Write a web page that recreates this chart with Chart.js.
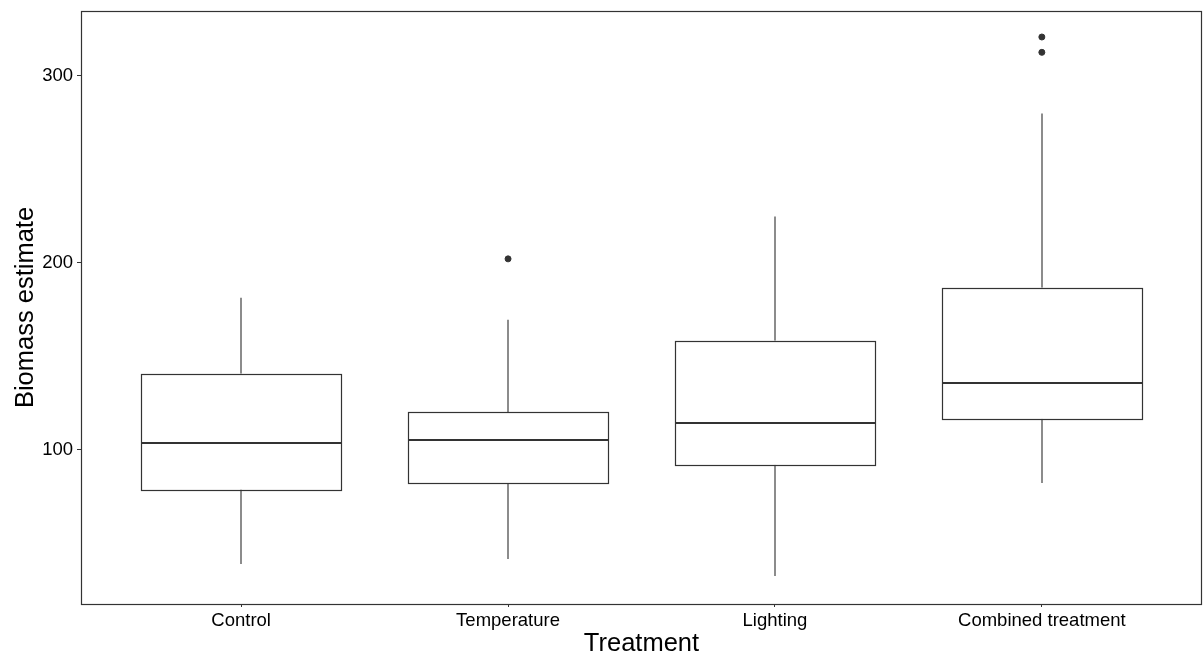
<!DOCTYPE html>
<html>
<head>
<meta charset="utf-8">
<script src="https://cdn.jsdelivr.net/npm/chart.js@4"></script>
<style>
  html, body { margin: 0; padding: 0; background: #fff; }
  #wrap { width: 1203px; height: 659px; }
</style>
</head>
<body>
<div id="wrap"><canvas id="chartBox"></canvas></div>
<script>
const categories = ["Control", "Temperature", "Lighting", "Combined treatment"];
const whiskerLow = [39.0, 41.7, 32.6, 82.3];
const q1 = [78.8, 82.3, 92.0, 116.6];
const median = [103.6, 105.4, 114.5, 135.9];
const q3 = [140.7, 120.3, 158.3, 186.7];
const whiskerHigh = [181.3, 169.6, 224.7, 279.8];
const outliers = [[], [202.1], [], [312.5, 320.7]];
const yTicks = [100, 200, 300];

const boxData = categories.map((c, i) => ({ x: i + 1, y: [q1[i], q3[i]] }));
const outlierData = [];
outliers.forEach((list, i) => list.forEach(v => outlierData.push({ x: i + 1, y: v })));

const boxPlugin = {
  id: "boxParts",
  beforeDatasetsDraw(chart) {
    const ctx = chart.ctx;
    const x = chart.scales.x, y = chart.scales.y;
    ctx.save();
    ctx.strokeStyle = "#8c8c8c";
    ctx.lineWidth = 2;
    categories.forEach((c, i) => {
      const px = Math.round(x.getPixelForValue(i + 1));
      ctx.beginPath();
      ctx.moveTo(px, y.getPixelForValue(q3[i]));
      ctx.lineTo(px, y.getPixelForValue(whiskerHigh[i]));
      ctx.moveTo(px, y.getPixelForValue(q1[i]));
      ctx.lineTo(px, y.getPixelForValue(whiskerLow[i]));
      ctx.stroke();
    });
    ctx.restore();
  },
  afterDatasetsDraw(chart) {
    const ctx = chart.ctx;
    const y = chart.scales.y;
    const meta = chart.getDatasetMeta(0);
    ctx.save();
    // boxes outline, crisp
    ctx.strokeStyle = "#333";
    ctx.lineWidth = 1.2;
    meta.data.forEach((bar) => {
      const l = Math.round(bar.x - bar.width / 2) + 0.5;
      const r = Math.round(bar.x + bar.width / 2) + 0.5;
      const t = Math.round(Math.min(bar.y, bar.base)) + 0.5;
      const b = Math.round(Math.max(bar.y, bar.base)) + 0.5;
      ctx.strokeRect(l, t, r - l, b - t);
    });
    ctx.lineWidth = 2;
    meta.data.forEach((bar, i) => {
      const py = Math.round(y.getPixelForValue(median[i]));
      ctx.beginPath();
      ctx.moveTo(Math.round(bar.x - bar.width / 2), py);
      ctx.lineTo(Math.round(bar.x + bar.width / 2) + 1, py);
      ctx.stroke();
    });
    const a = chart.chartArea;
    ctx.lineWidth = 1.2;
    ctx.strokeRect(Math.round(a.left) + 0.5, Math.round(a.top) + 0.5,
      Math.round(a.right - a.left) - 1, Math.round(a.bottom - a.top));
    ctx.restore();
  }
};

new Chart("chartBox", {
  type: "bar",
  data: {
    datasets: [
      {
        label: "box",
        data: boxData,
        backgroundColor: "#fff",
        borderWidth: 0,
        barPercentage: 0.75,
        categoryPercentage: 1,
        order: 2,
      },
      {
        type: "scatter",
        label: "outliers",
        data: outlierData,
        backgroundColor: "#333",
        borderColor: "#333",
        pointRadius: 3,
        order: 1,
      },
    ],
  },
  options: {
    responsive: true,
    maintainAspectRatio: false,
    animation: false,
    layout: { autoPadding: false, padding: { top: 11, right: 1, left: 0, bottom: 0 } },
    plugins: {
      legend: { display: false },
      tooltip: { enabled: false },
    },
    scales: {
      x: {
        type: "linear",
        min: 0.4,
        max: 4.6,
        offset: false,
        afterFit: s => { s.height = 55; s.paddingLeft = 0; s.paddingRight = 0; },
        afterBuildTicks: s => { s.ticks = categories.map((c, i) => ({ value: i + 1 })); },
        grid: { display: true, drawOnChartArea: false, offset: false, color: "#333", tickLength: 3 },
        border: { display: false },
        ticks: {
          color: "#000",
          padding: 3,
          maxRotation: 0,
          font: { family: "Liberation Sans, Arial", size: 18.5 },
          callback: v => categories[v - 1] || "",
        },
        title: {
          display: true,
          text: "Treatment",
          color: "#000",
          padding: { top: 0, bottom: 0 },
          font: { family: "Liberation Sans, Arial", size: 25.5 },
        },
      },
      y: {
        min: 17.6,
        max: 334.6,
        afterFit: s => { s.width = 81; s.paddingTop = 0; s.paddingBottom = 0; },
        afterBuildTicks: s => { s.ticks = yTicks.map(v => ({ value: v })); },
        grid: { display: true, drawOnChartArea: false, color: "#333", tickLength: 4 },
        border: { display: false },
        ticks: {
          color: "#000",
          padding: 4,
          font: { family: "Liberation Sans, Arial", size: 18.5 },
        },
        title: {
          display: true,
          text: "Biomass estimate",
          color: "#000",
          padding: { top: 11, bottom: 0 },
          font: { family: "Liberation Sans, Arial", size: 25.5 },
        },
      },
    },
  },
  plugins: [boxPlugin],
});
</script>
</body>
</html>
